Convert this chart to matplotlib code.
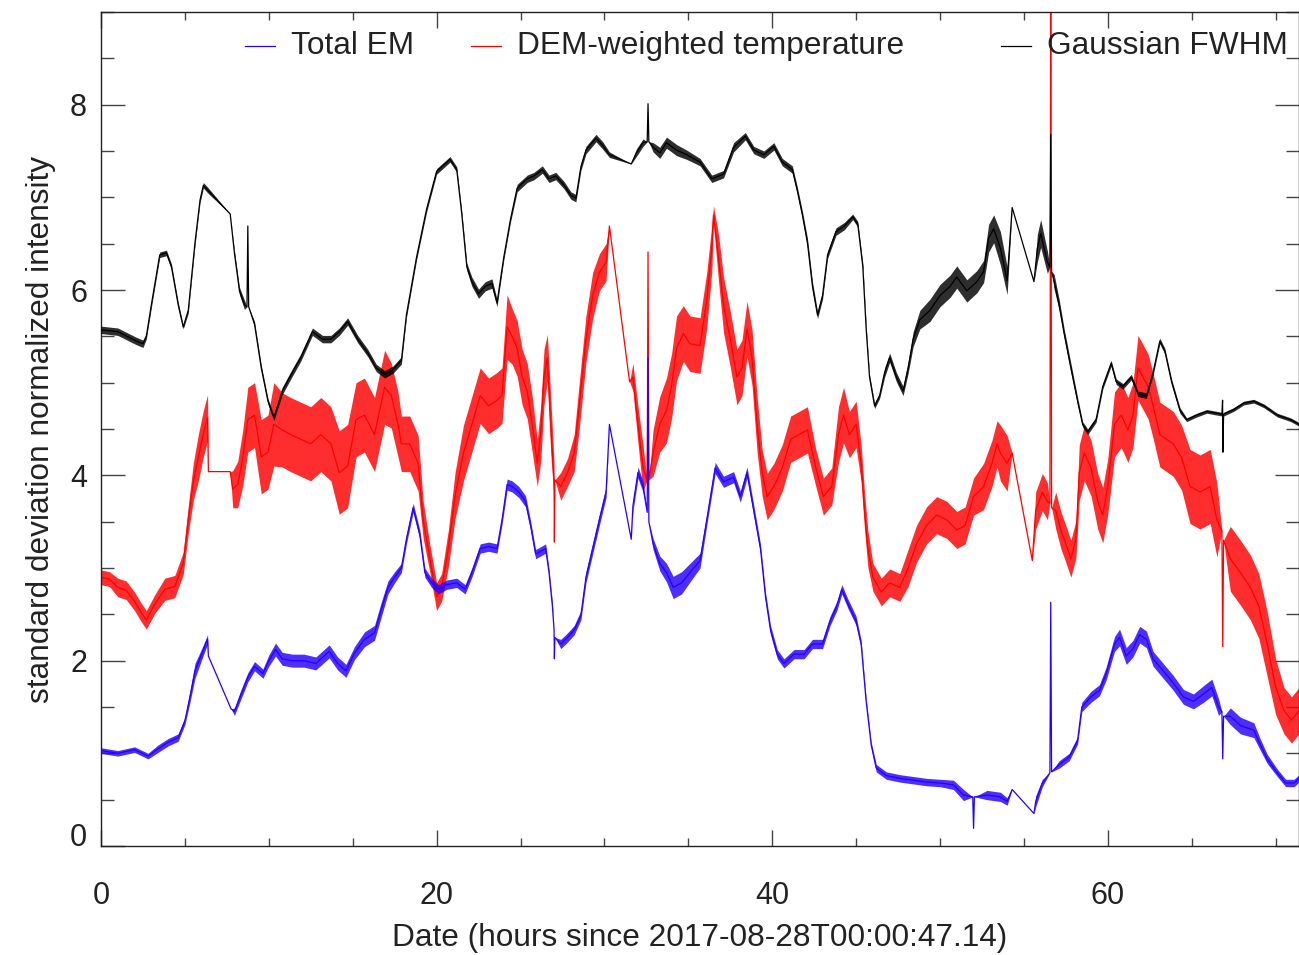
import numpy as np
import matplotlib
matplotlib.use("Agg")
import matplotlib.pyplot as plt
from matplotlib.ticker import MultipleLocator

plt.rcParams['font.family'] = ['Liberation Sans', 'DejaVu Sans']

# ---- Gaussian FWHM (black) : hours, value, noise half-width ----
fwhm_hours = [0.0, 1.0, 2.1, 2.5, 2.7, 3.0, 3.5, 3.9, 4.2, 4.6,
              4.9, 5.2, 5.6, 5.9, 6.1, 6.4, 7.7, 7.95, 8.25, 8.55,
              8.7, 8.75, 8.8, 9.15, 9.55, 9.95, 10.3, 10.8, 11.4, 11.9,
              12.6, 13.2, 13.7, 14.2, 14.7, 15.3, 15.9, 16.4, 16.9, 17.4,
              17.9, 18.2, 18.8, 19.4, 20.0, 20.8, 21.2, 21.5, 21.8, 22.1,
              22.5, 22.9, 23.3, 23.6, 24.0, 24.4, 24.8, 25.4, 25.8, 26.3,
              26.7, 27.1, 27.6, 28.0, 28.3, 28.6, 28.9, 29.5, 29.9, 30.3,
              31.6, 31.9, 32.3, 32.55, 32.6, 32.65, 32.9, 33.3, 33.7, 34.3,
              34.9, 35.7, 36.4, 37.1, 37.7, 38.4, 38.9, 39.5, 40.1, 40.6,
              41.2, 41.5, 41.8, 42.1, 42.4, 42.7, 43.0, 43.3, 43.8, 44.3,
              44.8, 45.1, 45.4, 45.6, 45.8, 46.1, 46.4, 46.7, 47.0, 47.4,
              47.8, 48.1, 48.4, 48.8, 49.4, 50.0, 50.6, 51.0, 51.6, 52.2,
              52.6, 52.9, 53.2, 53.6, 54.0, 54.3, 55.6, 55.8, 56.0, 56.4,
              56.55, 56.6, 56.65, 56.8, 57.1, 57.4, 57.8, 58.2, 58.5, 58.8,
              59.3, 59.7, 60.2, 60.5, 60.9, 61.4, 61.8, 62.3, 62.7, 63.1,
              63.4, 63.8, 64.3, 64.7, 65.3, 65.9, 66.8, 66.84, 66.86, 66.9,
              67.5, 68.1, 68.7, 69.3, 70.1, 70.9, 71.4]
fwhm_vals = [5.57, 5.55, 5.45, 5.42, 5.50, 5.84, 6.38, 6.40, 6.25, 5.84,
             5.60, 5.78, 6.51, 6.97, 7.13, 7.07, 6.82, 6.40, 5.99, 5.84,
             5.82, 6.69, 5.82, 5.63, 5.16, 4.80, 4.62, 4.91, 5.11, 5.27,
             5.55, 5.47, 5.47, 5.55, 5.66, 5.47, 5.32, 5.16, 5.09, 5.14,
             5.24, 5.73, 6.35, 6.87, 7.28, 7.41, 7.30, 6.82, 6.25, 6.09,
             5.96, 6.04, 6.07, 5.86, 6.35, 6.76, 7.10, 7.20, 7.23, 7.30,
             7.20, 7.23, 7.13, 7.02, 6.99, 7.33, 7.51, 7.64, 7.56, 7.46,
             7.36, 7.48, 7.59, 7.60, 8.01, 7.60, 7.54, 7.48, 7.59, 7.51,
             7.46, 7.38, 7.20, 7.25, 7.54, 7.66, 7.51, 7.46, 7.55, 7.38,
             7.30, 7.07, 6.81, 6.51, 6.04, 5.73, 5.94, 6.38, 6.63, 6.69,
             6.79, 6.71, 6.25, 5.58, 5.06, 4.75, 4.86, 5.11, 5.27, 5.06,
             4.91, 5.16, 5.47, 5.68, 5.78, 5.94, 6.04, 6.14, 5.99, 6.09,
             6.20, 6.56, 6.66, 6.45, 6.10, 6.89, 6.09, 6.45, 6.61, 6.30,
             6.25, 7.68, 6.20, 6.09, 5.84, 5.53, 5.16, 4.80, 4.55, 4.47,
             4.60, 4.96, 5.21, 5.01, 4.96, 5.06, 4.88, 4.86, 5.11, 5.45,
             5.34, 5.01, 4.70, 4.60, 4.65, 4.69, 4.66, 4.81, 4.25, 4.66,
             4.71, 4.78, 4.80, 4.75, 4.65, 4.60, 4.55]
fwhm_spread = [.04, .04, .04, .04, .03, .03, .03, .03, .03, .03,
               .02, .03, .03, .03, .03, .03, 0, .03, .04, .05,
               0, 0, 0, .03, .03, .03, .03, .04, .04, .04,
               .04, .04, .04, .04, .04, .04, .04, .04, .04, .04,
               .04, .03, .03, .03, .03, .03, .03, .03, .04, .05,
               .05, .05, .05, .04, .03, .03, .04, .04, .04, .04,
               .04, .04, .04, .04, .04, .04, .04, .04, .04, .03,
               0, .04, .04, 0, 0, 0, .05, .06, .06, .06,
               .05, .04, .04, .04, .05, .04, .04, .04, .04, .04,
               .04, .04, .04, .05, .05, .04, .04, .04, .04, .04,
               .03, .03, .04, .04, .03, .03, .03, .05, .05, .05,
               .05, .06, .08, .10, .12, .12, .12, .12, .12, .12,
               .12, .15, .15, .18, .15, 0, 0, .15, .15, .12,
               0, 0, 0, .08, .06, .05, .05, .04, .03, .03,
               .03, .03, .03, .03, .03, .03, .03, .03, .03, .03,
               .03, .03, .03, .02, .02, .02, .02, 0, 0, .02,
               .02, .02, .02, .02, .02, .02, .02]

# ---- DEM-weighted temperature (red) ----
temp_hours = [0.0, 0.5, 1.0, 1.5, 2.0, 2.4, 2.7, 3.2, 3.8, 4.4,
              4.9, 5.2, 5.5, 5.8, 6.1, 6.35, 6.4, 7.7, 7.85, 8.15,
              8.45, 8.75, 9.15, 9.55, 9.95, 10.3, 10.8, 11.3, 11.9, 12.5,
              13.1, 13.7, 14.2, 14.7, 15.2, 15.7, 16.3, 16.9, 17.3, 17.7,
              17.9, 18.4, 18.9, 19.2, 19.6, 20.0, 20.3, 20.7, 21.1, 21.6,
              22.1, 22.6, 23.1, 23.6, 23.9, 24.2, 24.5, 24.8, 25.1, 25.4,
              25.7, 26.0, 26.2, 26.4, 26.6, 26.8, 27.0, 27.02, 27.05, 27.4,
              27.8, 28.2, 28.5, 28.9, 29.3, 29.7, 30.1, 30.3, 31.5, 31.7,
              32.0, 32.3, 32.55, 32.6, 32.65, 32.9, 33.3, 33.7, 34.0, 34.3,
              34.7, 35.1, 35.7, 36.1, 36.4, 36.5, 36.8, 37.1, 37.5, 37.9,
              38.2, 38.5, 38.8, 39.1, 39.4, 39.7, 40.1, 40.6, 41.1, 41.6,
              42.1, 42.6, 43.05, 43.55, 43.95, 44.25, 44.6, 45.0, 45.3, 45.5,
              45.7, 46.0, 46.5, 47.0, 47.6, 48.1, 48.6, 49.2, 49.8, 50.4,
              51.0, 51.5, 52.0, 52.6, 53.1, 53.4, 53.6, 54.0, 54.3, 55.5,
              55.7, 56.1, 56.4, 56.55, 56.6, 56.65, 56.9, 57.2, 57.5, 57.8,
              58.1, 58.3, 58.6, 59.0, 59.4, 59.7, 60.0, 60.4, 60.8, 61.2,
              61.5, 61.8, 62.1, 62.4, 62.7, 63.1, 63.5, 63.9, 64.4, 64.9,
              65.5, 66.1, 66.5, 66.8, 66.85, 66.9, 67.3, 67.9, 68.5, 69.0,
              69.5, 70.0, 70.5, 70.95, 71.4]
temp_vals = [2.90, 2.88, 2.79, 2.76, 2.64, 2.52, 2.44, 2.61, 2.77, 2.80,
             3.05, 3.52, 3.93, 4.19, 4.45, 4.62, 4.04, 4.04, 3.85, 3.90,
             4.19, 4.60, 4.65, 4.20, 4.25, 4.55, 4.49, 4.44, 4.39, 4.34,
             4.44, 4.34, 4.03, 4.10, 4.60, 4.65, 4.44, 4.95, 4.86, 4.55,
             4.34, 4.34, 4.13, 3.52, 3.10, 2.69, 2.79, 3.21, 3.78, 4.24,
             4.55, 4.86, 4.75, 4.81, 4.86, 5.60, 5.50, 5.37, 5.06, 4.91,
             4.55, 4.13, 4.44, 5.06, 5.27, 4.55, 3.93, 3.28, 3.95, 3.88,
             4.03, 4.24, 4.75, 5.47, 5.94, 6.19, 6.30, 6.69, 5.01, 5.06,
             4.55, 4.08, 3.95, 6.41, 3.95, 4.24, 4.55, 4.70, 4.96, 5.37,
             5.53, 5.42, 5.40, 5.89, 6.45, 6.81, 6.35, 5.84, 5.47, 5.06,
             5.16, 5.58, 5.27, 4.55, 4.03, 3.77, 3.88, 4.08, 4.39, 4.44,
             4.49, 4.08, 3.77, 3.88, 4.44, 4.65, 4.44, 4.55, 4.13, 3.62,
             3.21, 2.90, 2.74, 2.84, 2.79, 3.00, 3.26, 3.46, 3.57, 3.52,
             3.41, 3.46, 3.77, 3.88, 4.13, 4.34, 4.24, 4.13, 4.24, 3.08,
             3.62, 3.82, 3.72, 3.70, 9.50, 3.65, 3.62, 3.41, 3.26, 3.10,
             3.31, 4.03, 4.24, 4.08, 3.72, 3.57, 3.88, 4.55, 4.65, 4.49,
             4.65, 5.16, 5.06, 4.96, 4.75, 4.44, 4.39, 4.34, 4.19, 3.88,
             3.82, 3.88, 3.52, 3.40, 2.15, 3.30, 3.10, 2.95, 2.79, 2.59,
             2.18, 1.72, 1.46, 1.36, 1.46]
temp_spread = [.08, .08, .10, .10, .10, .10, .10, .10, .12, .12,
               .12, .15, .20, .25, .25, .25, 0, 0, .20, .25,
               .30, .35, .35, .40, .40, .45, .40, .40, .40, .40,
               .40, .40, .45, .45, .40, .40, .40, .40, .35, .35,
               .30, .30, .30, .20, .15, .15, .15, .20, .25, .30,
               .30, .30, .30, .30, .30, .35, .30, .30, .30, .30,
               .30, .25, .30, .30, .25, .30, .20, 0, 0, .15,
               .15, .20, .25, .25, .25, .20, .20, 0, 0, .15,
               .20, .25, 0, 0, 0, .25, .30, .35, .35, .35,
               .30, .30, .30, .30, .25, .10, .25, .30, .30, .30,
               .30, .30, .30, .30, .25, .25, .25, .25, .25, .25,
               .25, .20, .20, .20, .30, .30, .25, .25, .20, .20,
               .20, .15, .15, .15, .15, .20, .20, .20, .20, .20,
               .20, .20, .20, .25, .25, .25, .30, .30, 0, 0,
               .20, .20, .20, 0, 0, 0, .20, .20, .20, .20,
               .20, .30, .30, .30, .30, .30, .30, .35, .35, .35,
               .35, .35, .35, .35, .35, .35, .35, .35, .35, .40,
               .40, .40, .40, 0, 0, 0, .35, .35, .35, .35,
               .35, .30, .25, .25, .25]

# ---- Total EM (blue) ----
em_hours = [0.0, 1.0, 2.0, 2.8, 3.4, 4.0, 4.6, 5.0, 5.3, 5.6,
            6.0, 6.35, 6.4, 7.75, 7.95, 8.35, 8.75, 9.15, 9.65, 10.0,
            10.4, 10.8, 11.4, 12.1, 12.8, 13.6, 14.1, 14.6, 15.1, 15.7,
            16.3, 16.7, 17.1, 17.5, 17.9, 18.2, 18.6, 19.0, 19.3, 19.7,
            20.1, 20.6, 21.2, 21.7, 22.1, 22.6, 23.1, 23.6, 23.9, 24.2,
            24.5, 24.9, 25.3, 25.6, 25.9, 26.2, 26.5, 26.7, 26.9, 27.0,
            27.02, 27.05, 27.4, 27.8, 28.2, 28.6, 28.9, 29.3, 29.7, 30.1,
            30.3, 31.6, 31.7, 32.0, 32.3, 32.55, 32.6, 32.65, 32.9, 33.3,
            33.7, 34.1, 34.6, 35.1, 35.7, 36.1, 36.6, 37.1, 37.7, 38.1,
            38.5, 38.9, 39.3, 39.6, 39.9, 40.3, 40.7, 41.3, 41.9, 42.4,
            43.0, 43.45, 43.85, 44.15, 44.5, 45.0, 45.3, 45.6, 45.9, 46.2,
            46.8, 47.6, 48.4, 49.2, 50.0, 50.8, 51.4, 51.95, 52.0, 52.05,
            52.8, 53.6, 54.0, 54.3, 55.6, 55.7, 56.1, 56.55, 56.6, 56.65,
            57.1, 57.7, 58.2, 58.45, 59.0, 59.5, 59.9, 60.4, 60.7, 61.1,
            61.5, 61.9, 62.3, 62.7, 63.3, 63.9, 64.5, 65.1, 65.7, 66.2,
            66.6, 66.8, 66.85, 66.9, 67.3, 67.9, 68.7, 69.1, 69.5, 70.1,
            70.6, 71.1, 71.4]
em_vals = [1.03, 1.00, 1.04, 0.97, 1.05, 1.12, 1.17, 1.35, 1.61, 1.89,
           2.07, 2.23, 2.05, 1.48, 1.45, 1.64, 1.82, 1.94, 1.86, 2.00,
           2.12, 2.02, 2.00, 2.00, 1.97, 2.10, 1.97, 1.89, 2.08, 2.23,
           2.30, 2.55, 2.79, 2.90, 3.00, 3.31, 3.65, 3.36, 2.95, 2.84,
           2.77, 2.82, 2.84, 2.77, 2.95, 3.21, 3.23, 3.21, 3.52, 3.90,
           3.88, 3.82, 3.72, 3.46, 3.15, 3.18, 3.21, 2.95, 2.59, 2.33,
           2.02, 2.25, 2.18, 2.25, 2.33, 2.49, 2.90, 3.21, 3.52, 3.82,
           4.55, 3.31, 3.67, 4.03, 3.88, 3.60, 5.27, 3.50, 3.26, 3.05,
           2.95, 2.79, 2.84, 2.95, 3.08, 3.52, 4.08, 3.93, 3.98, 3.77,
           4.03, 3.62, 3.21, 2.69, 2.33, 2.07, 1.97, 2.07, 2.07, 2.18,
           2.18, 2.43, 2.59, 2.77, 2.62, 2.43, 2.18, 1.56, 1.09, 0.84,
           0.76, 0.73, 0.71, 0.69, 0.68, 0.66, 0.55, 0.53, 0.19, 0.53,
           0.55, 0.53, 0.48, 0.61, 0.35, 0.48, 0.68, 0.79, 2.63, 0.80,
           0.88, 0.96, 1.14, 1.50, 1.61, 1.68, 1.86, 2.18, 2.25, 2.05,
           2.13, 2.28, 2.23, 2.02, 1.89, 1.76, 1.61, 1.56, 1.64, 1.71,
           1.50, 1.45, 0.94, 1.40, 1.40, 1.30, 1.25, 1.09, 0.94, 0.79,
           0.68, 0.68, 0.73]
em_spread = [.03, .03, .03, .03, .04, .04, .04, .04, .06, .08,
             .06, .05, 0, 0, .04, .05, .05, .05, .05, .06,
             .07, .07, .07, .07, .07, .07, .07, .07, .07, .08,
             .08, .08, .07, .06, .05, .05, .05, .05, .05, .05,
             .05, .05, .05, .05, .05, .05, .05, .05, .05, .06,
             .06, .06, .06, .05, .05, .05, .05, .04, .04, 0,
             0, 0, .05, .05, .05, .05, .06, .06, .06, .06,
             0, 0, .06, .06, .06, 0, 0, 0, .06, .08,
             .10, .12, .12, .10, .08, .06, .06, .06, .06, .06,
             .06, .06, .05, .05, .05, .05, .05, .05, .05, .05,
             .05, .05, .05, .05, .05, .05, .04, .03, .03, .04,
             .04, .04, .04, .04, .04, .05, .06, 0, 0, 0,
             .05, .05, .04, 0, 0, .06, .04, 0, 0, 0,
             .04, .04, .04, .05, .06, .06, .07, .08, .09, .09,
             .09, .09, .09, .08, .08, .08, .08, .08, .09, .09,
             .09, 0, 0, 0, .09, .09, .08, .06, .05, .04,
             .04, .04, .04]

series = [
    ('Total EM', '#2400ff', em_hours, em_vals, em_spread, 3),
    ('DEM-weighted temperature', '#ff0000', temp_hours, temp_vals, temp_spread, 2),
    ('Gaussian FWHM', '#000000', fwhm_hours, fwhm_vals, fwhm_spread, 4),
]

TXT = '#222222'
FS = 22.8
fig = plt.figure(figsize=(12.99, 9.55), dpi=100)
ax = fig.add_axes([101 / 1299, 1 - 846 / 955, 1198 / 1299, 834 / 955])

for name, col, t, v, s, z in series:
    t = np.asarray(t)
    v = np.asarray(v)
    s = np.asarray(s)
    # noise envelope, then the trace itself on top
    ax.fill_between(t, v - s, v + s, color=col, alpha=0.82, lw=0, zorder=z)
    ax.plot(t, v, color=col, lw=0.9, zorder=z)

ax.set_xlim(0, (1299 - 101) / 16.78)
ax.set_ylim(0, 9)

ax.xaxis.set_major_locator(MultipleLocator(20))
ax.xaxis.set_minor_locator(MultipleLocator(5))
ax.yaxis.set_major_locator(MultipleLocator(2))
ax.yaxis.set_minor_locator(MultipleLocator(0.5))
ax.tick_params(axis='x', which='both', direction='in', top=True, bottom=True,
               colors='#444444', labelcolor=TXT, labelsize=22, pad=25)
ax.tick_params(axis='y', which='both', direction='in', left=True, right=True,
               colors='#444444', labelcolor=TXT, labelsize=22, pad=10)
ax.tick_params(axis='x', which='major', length=11.5, width=1.0)
ax.tick_params(axis='x', which='minor', length=5.8, width=1.0)
ax.tick_params(axis='y', which='major', length=17.3, width=1.0)
ax.tick_params(axis='y', which='minor', length=9.4, width=1.0)
for sp in ax.spines.values():
    sp.set_color('#222222')
    sp.set_linewidth(1.0)

fig.canvas.draw()
for lab in ax.get_yticklabels():
    if lab.get_text() in ('0', '−0', '-0'):
        lab.set_verticalalignment('baseline')

ax.set_xlabel('Date (hours since 2017-08-28T00:00:47.14)', fontsize=FS,
              color=TXT, labelpad=9)
ax.set_ylabel('standard deviation normalized intensity', fontsize=FS,
              color=TXT, labelpad=10)

# legend row along the top of the axes
leg_y = (846 - 46) / 834
for (name, col, *_), hx in zip(series, (245, 471, 1001)):
    x0 = (hx - 101) / 1198
    x1 = (hx + 30 - 101) / 1198
    ax.plot([x0, x1], [leg_y, leg_y], color=col, lw=0.9,
            transform=ax.transAxes, clip_on=False, zorder=6)
    ax.text((hx + 46 - 101) / 1198, leg_y, name, transform=ax.transAxes,
            fontsize=FS, color=TXT, va='center', ha='left', zorder=6)

fig.savefig('out.png', dpi=100)
